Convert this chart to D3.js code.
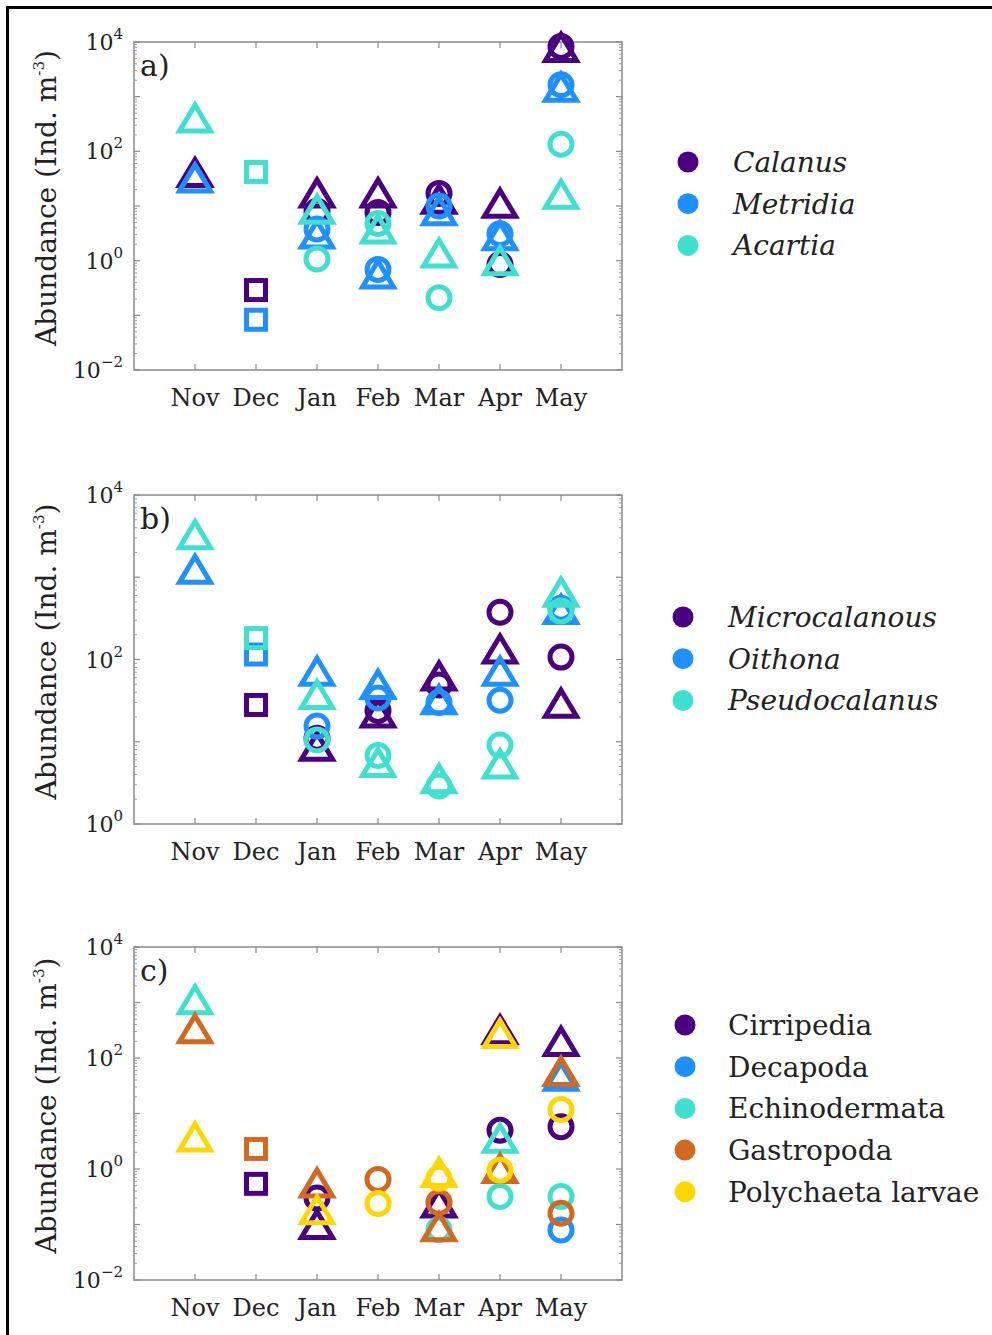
<!DOCTYPE html>
<html>
<head>
<meta charset="utf-8">
<script src="https://cdn.jsdelivr.net/npm/d3@7"></script>
<style>
  body { margin: 0; background: #fff; }
  svg text { font-family: "DejaVu Serif", serif; fill: #222; }
</style>
</head>
<body>
<div id="chart"></div>
<script>
// months on the x axis
var months = ["Nov", "Dec", "Jan", "Feb", "Mar", "Apr", "May"];

// panel a) large copepods  (circle / triangle / square = 3 sample types)
var calanusCircle   = [null, null, 8, 7.6, 17, 0.85, 8300];
var calanusTriangle = [40, null, 17, 17, 13, 11, 7800];
var calanusSquare   = [null, 0.29, null, null, null, null, null];
var metridiaCircle   = [null, null, 3.8, 0.69, 10, 3.1, 1650];
var metridiaTriangle = [32, null, 3.0, 0.56, 8, 2.8, 1450];
var metridiaSquare   = [null, 0.083, null, null, null, null, null];
var acartiaCircle   = [null, null, 1.07, 4.8, 0.21, null, 135];
var acartiaTriangle = [400, null, 8.5, 3.7, 1.35, 0.98, 16];
var acartiaSquare   = [null, 42, null, null, null, null, null];

// panel b) small copepods
var microCircle   = [null, null, 11, 24, 49, 375, 107];
var microTriangle = [null, null, 8.7, 22, 62, 132, 29];
var microSquare   = [null, 28, null, null, null, null, null];
var oithonaCircle   = [null, null, 15.5, 34, 30, 32, 420];
var oithonaTriangle = [1230, null, 71, 49, 32, 71, 400];
var oithonaSquare   = [null, 115, null, null, null, null, null];
var pseudoCircle   = [null, null, 10.5, 6.8, 2.9, 9.1, 390];
var pseudoTriangle = [3250, null, 37, 5.5, 3.5, 5.3, 650];
var pseudoSquare   = [null, 182, null, null, null, null, null];

// panel c) meroplankton
var cirriCircle   = [null, null, 0.3, null, null, 5, 5.8];
var cirriTriangle = [null, null, 0.098, null, 0.24, 316, 195];
var cirriSquare   = [null, 0.54, null, null, null, null, null];
var decaCircle   = [null, null, null, null, null, null, 0.08];
var decaTriangle = [null, null, null, null, null, null, 46];
var decaSquare   = [null, null, null, null, null, null, null];
var echinoCircle   = [null, null, null, null, 0.081, 0.32, 0.32];
var echinoTriangle = [1100, null, null, null, null, 3.5, null];
var echinoSquare   = [null, null, null, null, null, null, null];
var gastroCircle   = [null, null, null, 0.65, 0.25, null, 0.16];
var gastroTriangle = [330, null, 0.55, null, 0.089, 1.0, 56];
var gastroSquare   = [null, 2.3, null, null, null, null, null];
var polyCircle   = [null, null, null, 0.24, 0.68, 0.95, 11.8];
var polyTriangle = [3.7, null, 0.18, null, 0.85, 270, null];
var polySquare   = [null, null, null, null, null, null, null];

var colors = ["#4b0082", "#1e90ff", "#40e0d0", "#d2691e", "#ffd700"];

var panels = [
    {label: "a)", top: 42, bottom: 370, exps: [-2, 4], italic: true, legendX: 688, legendY: 162, textX: 733,
     species: [
        {name: "Calanus", circle: calanusCircle, triangle: calanusTriangle, square: calanusSquare},
        {name: "Metridia", circle: metridiaCircle, triangle: metridiaTriangle, square: metridiaSquare},
        {name: "Acartia", circle: acartiaCircle, triangle: acartiaTriangle, square: acartiaSquare}]},
    {label: "b)", top: 495, bottom: 824, exps: [0, 4], italic: true, legendX: 683, legendY: 617, textX: 728,
     species: [
        {name: "Microcalanous", circle: microCircle, triangle: microTriangle, square: microSquare},
        {name: "Oithona", circle: oithonaCircle, triangle: oithonaTriangle, square: oithonaSquare},
        {name: "Pseudocalanus", circle: pseudoCircle, triangle: pseudoTriangle, square: pseudoSquare}]},
    {label: "c)", top: 947, bottom: 1280, exps: [-2, 4], italic: false, legendX: 685, legendY: 1025, textX: 728,
     species: [
        {name: "Cirripedia", circle: cirriCircle, triangle: cirriTriangle, square: cirriSquare},
        {name: "Decapoda", circle: decaCircle, triangle: decaTriangle, square: decaSquare},
        {name: "Echinodermata", circle: echinoCircle, triangle: echinoTriangle, square: echinoSquare},
        {name: "Gastropoda", circle: gastroCircle, triangle: gastroTriangle, square: gastroSquare},
        {name: "Polychaeta larvae", circle: polyCircle, triangle: polyTriangle, square: polySquare}]}
];

var svg = d3.select("#chart").append("svg")
    .attr("width", 992)
    .attr("height", 1335);

// outer frame (only top and left edges are visible)
svg.append("path")
    .attr("d", "M7.5,1335 L7.5,7.5 L992,7.5")
    .attr("fill", "none")
    .attr("stroke", "#000")
    .attr("stroke-width", 3);

var left = 134, right = 622;
let x = d3.scaleLinear().domain([0, 8]).range([left, right]);

let triPath = "M0,-13.5 L15.5,12.5 L-15.5,12.5 Z";

panels.forEach((p) => {
    let y = d3.scaleLog()
        .domain([Math.pow(10, p.exps[0]), Math.pow(10, p.exps[1])])
        .range([p.bottom, p.top]);

    let g = svg.append("g");

    // box
    g.append("rect")
        .attr("x", left).attr("y", p.top)
        .attr("width", right - left).attr("height", p.bottom - p.top)
        .attr("fill", "none").attr("stroke", "#8a8a8a").attr("stroke-width", 1.5);

    // x ticks (top and bottom, pointing inward)
    months.forEach((m, i) => {
        g.append("line").attr("x1", x(i + 1)).attr("x2", x(i + 1))
            .attr("y1", p.bottom).attr("y2", p.bottom - 6)
            .attr("stroke", "#8a8a8a").attr("stroke-width", 1.2);
        g.append("line").attr("x1", x(i + 1)).attr("x2", x(i + 1))
            .attr("y1", p.top).attr("y2", p.top + 6)
            .attr("stroke", "#8a8a8a").attr("stroke-width", 1.2);
        g.append("text")
            .attr("x", x(i + 1)).attr("y", p.bottom + 36)
            .attr("text-anchor", "middle")
            .style("font-size", "24px")
            .text(m);
    });

    // y ticks: majors every decade, minors 2..9
    for (let e = p.exps[0]; e <= p.exps[1]; e++) {
        let yy = y(Math.pow(10, e));
        let len = 6;
        [[left, left + len], [right, right - len]].forEach((s) => {
            g.append("line").attr("x1", s[0]).attr("x2", s[1])
                .attr("y1", yy).attr("y2", yy)
                .attr("stroke", "#8a8a8a").attr("stroke-width", 1.2);
        });
        if (e < p.exps[1]) {
            for (let k = 2; k < 10; k++) {
                let ym = y(k * Math.pow(10, e));
                [[left, left + 3], [right, right - 3]].forEach((s) => {
                    g.append("line").attr("x1", s[0]).attr("x2", s[1])
                        .attr("y1", ym).attr("y2", ym)
                        .attr("stroke", "#9a9a9a").attr("stroke-width", 1);
                });
            }
        }
        if ((e - p.exps[0]) % 2 === 0) {
            let t = g.append("text")
                .attr("x", 123).attr("y", yy + 8)
                .attr("text-anchor", "end")
                .style("font-size", "22px");
            t.append("tspan").text("10");
            t.append("tspan").attr("dy", -11).style("font-size", "15px")
                .text(e < 0 ? "\u2212" + (-e) : String(e));
        }
    }

    // y axis title
    let title = g.append("text")
        .attr("transform", "translate(56," + ((p.top + p.bottom) / 2 - 8) + ") rotate(-90)")
        .attr("text-anchor", "middle")
        .style("font-size", "28px");
    title.append("tspan").text("Abundance (Ind. m");
    title.append("tspan").attr("dy", -12).style("font-size", "15px").text("-3");
    title.append("tspan").attr("dy", 12).text(")");

    // panel label
    g.append("text")
        .attr("x", 140).attr("y", p.top + 34)
        .style("font-size", "30px")
        .text(p.label);

    // markers
    p.species.forEach((s, si) => {
        let col = colors[si];
        let mk = g.append("g")
            .attr("fill", "none")
            .attr("stroke", col)
            .attr("stroke-width", 5);

        mk.selectAll(".c")
            .data(s.circle.map((v, i) => [i, v]).filter((d) => d[1] !== null))
            .enter().append("circle")
                .attr("cx", (d) => x(d[0] + 1))
                .attr("cy", (d) => y(d[1]))
                .attr("r", 11);

        mk.selectAll(".t")
            .data(s.triangle.map((v, i) => [i, v]).filter((d) => d[1] !== null))
            .enter().append("path")
                .attr("d", triPath)
                .attr("stroke-linejoin", "miter")
                .attr("transform", (d) => "translate(" + x(d[0] + 1) + "," + y(d[1]) + ")");

        mk.selectAll(".s")
            .data(s.square.map((v, i) => [i, v]).filter((d) => d[1] !== null))
            .enter().append("rect")
                .attr("x", (d) => x(d[0] + 1) - 9.5)
                .attr("y", (d) => y(d[1]) - 9.5)
                .attr("width", 19).attr("height", 19);

        // legend entry
        let ly = p.legendY + si * 41.7;
        g.append("circle")
            .attr("cx", p.legendX).attr("cy", ly).attr("r", 10.5)
            .attr("fill", col);
        g.append("text")
            .attr("x", p.textX).attr("y", ly + 10)
            .style("font-size", "28px")
            .style("font-style", p.italic ? "italic" : "normal")
            .text(s.name);
    });
});
</script>
</body>
</html>
